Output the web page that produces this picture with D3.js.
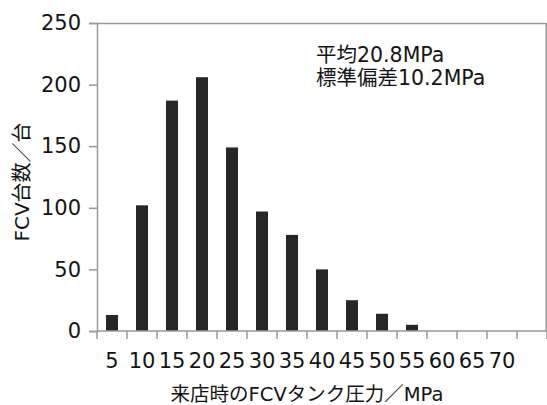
<!DOCTYPE html>
<html>
<head>
<meta charset="utf-8">
<script src="https://cdn.jsdelivr.net/npm/d3@7"></script>
<style>
  html, body { margin: 0; padding: 0; background: #fff; }
  svg { display: block; }
  text { font-family: "DejaVu Sans", "Noto Sans CJK JP", sans-serif; fill: #141414; }
</style>
</head>
<body>
<svg id="chart" width="547" height="405"></svg>
<script>
const categories = ["5","10","15","20","25","30","35","40","45","50","55","60","65","70",""];
const counts = [13, 102, 187, 206, 149, 97, 78, 50, 25, 14, 5, 0, 0, 0, 0];
const yTicks = [0, 50, 100, 150, 200, 250];
const yTitle = "FCV台数／台";
const xTitle = "来店時のFCVタンク圧力／MPa";
const notes = ["平均20.8MPa", "標準偏差10.2MPa"];

(function () {
const svg = d3.select("#chart");
const pLeft = 97, pRight = 547, pTop = 23, pBottom = 331;

const xb = d3.scaleBand().domain(categories).range([pLeft, pRight]).padding(0);
const y = d3.scaleLinear().domain([0, 250]).range([pBottom, pTop]);

const axisColor = "#9a9a9a";

// frame: top and right border
svg.append("line").attr("x1", pLeft).attr("x2", pRight - 0.5).attr("y1", y(250) + 0.5).attr("y2", y(250) + 0.5)
  .attr("stroke", axisColor).attr("stroke-width", 1.5);
svg.append("line").attr("x1", pRight - 0.8).attr("x2", pRight - 0.8).attr("y1", y(250)).attr("y2", pBottom)
  .attr("stroke", axisColor).attr("stroke-width", 1.5);

// bars
svg.append("g").selectAll("rect").data(categories.map((c, i) => ({c, v: counts[i]})))
  .join("rect")
  .attr("x", d => xb(d.c) + (xb.bandwidth() - 12) / 2)
  .attr("width", 12)
  .attr("y", d => y(d.v))
  .attr("height", d => y(0) - y(d.v))
  .attr("fill", "#262626");

// y axis
const yAxis = d3.axisLeft(y).tickValues(yTicks).tickSize(8).tickPadding(8);
const gy = svg.append("g").attr("transform", `translate(${pLeft},0)`).call(yAxis);
gy.select(".domain").attr("stroke", axisColor).attr("stroke-width", 1.5);
gy.selectAll(".tick line").attr("stroke", axisColor).attr("stroke-width", 1.5);
gy.selectAll(".tick text").attr("font-size", 21).attr("fill", "#141414")
  .style("font-family", "'DejaVu Sans', sans-serif");

// x axis baseline + boundary ticks
const gx = svg.append("g");
gx.append("line").attr("x1", pLeft).attr("x2", pRight).attr("y1", pBottom).attr("y2", pBottom)
  .attr("stroke", axisColor).attr("stroke-width", 1.5);
const bounds = categories.map(c => xb(c)).concat([xb.range()[1]]);
gx.selectAll("line.t").data(bounds).join("line").attr("class", "t")
  .attr("x1", d => d).attr("x2", d => d).attr("y1", pBottom).attr("y2", pBottom + 8)
  .attr("stroke", axisColor).attr("stroke-width", 1.5);
gx.selectAll("text.lab").data(categories).join("text").attr("class", "lab")
  .attr("x", d => xb(d) + xb.bandwidth() / 2)
  .attr("y", 368)
  .attr("text-anchor", "middle")
  .attr("font-size", 21)
  .text(d => d);

// titles
svg.append("text").attr("transform", "translate(29,182) rotate(-90)")
  .attr("text-anchor", "middle").attr("font-size", 20).text(yTitle);
svg.append("text").attr("x", 307).attr("y", 401)
  .attr("text-anchor", "middle").attr("font-size", 19.5).text(xTitle);

// annotation
svg.append("g").selectAll("text").data(notes).join("text")
  .attr("x", 316).attr("y", (d, i) => 62 + i * 23)
  .attr("font-size", 20.5).text(d => d);
})();
</script>
</body>
</html>
